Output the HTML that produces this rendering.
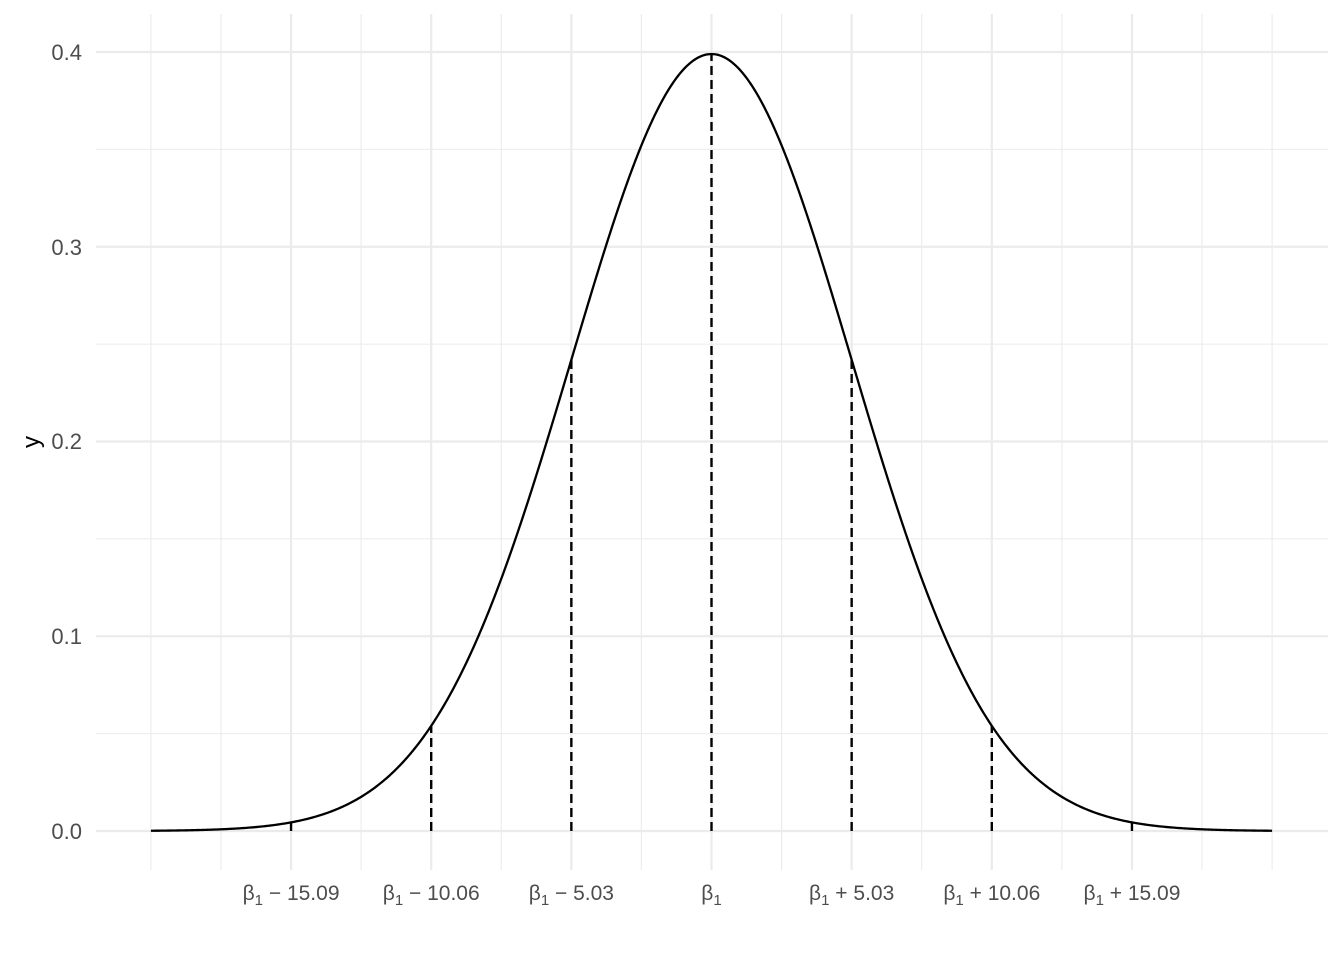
<!DOCTYPE html>
<html><head><meta charset="utf-8"><style>
html,body{margin:0;padding:0;background:#fff;}
svg text{font-family:"Liberation Sans",sans-serif;fill:#4d4d4d;}
</style></head><body>
<svg id="s" width="1344" height="960" xmlns="http://www.w3.org/2000/svg">
<g stroke="#ebebeb" stroke-width="1.1" id="minor"></g>
<g stroke="#ebebeb" stroke-width="2.2" id="major"></g>
<g id="dash" stroke="#000" stroke-width="2.4" stroke-dasharray="9,5"></g>
<path id="curve" fill="none" stroke="#000" stroke-width="2.3"/>
<g font-size="22" text-anchor="end">
<text x="82" y="839">0.0</text><text x="82" y="644">0.1</text><text x="82" y="449">0.2</text><text x="82" y="255">0.3</text><text x="82" y="60">0.4</text>
</g>
<text x="39" y="442" font-size="24" style="fill:#000" transform="rotate(-90 39 442)" text-anchor="middle">y</text>
<g font-size="21" text-anchor="middle" id="xl"></g>
</svg>
<script>
var X=function(z){return 711.5+z*140.15}, Y=function(v){return 831-v*1947.5};
var pdf=function(z){return Math.exp(-z*z/2)/Math.sqrt(2*Math.PI)};
var ns="http://www.w3.org/2000/svg";
function line(g,x1,y1,x2,y2){var l=document.createElementNS(ns,"line");l.setAttribute("x1",x1);l.setAttribute("y1",y1);l.setAttribute("x2",x2);l.setAttribute("y2",y2);document.getElementById(g).appendChild(l);}
[0.0,0.1,0.2,0.3,0.4].forEach(function(v){line("major",96,Y(v),1328,Y(v));});
[0.05,0.15,0.25,0.35].forEach(function(v){line("minor",96,Y(v),1328,Y(v));});
for(var i=-3;i<=3;i++)line("major",X(i),14,X(i),870);
[-4,-3.5,-2.5,-1.5,-0.5,0.5,1.5,2.5,3.5,4].forEach(function(z){line("minor",X(z),14,X(z),870);});
for(var i=-3;i<=3;i++)line("dash",X(i),Y(0),X(i),Y(pdf(i)));
var d="";for(var k=0;k<=800;k++){var z=-4+k*0.01;d+=(k?"L":"M")+X(z).toFixed(2)+","+Y(pdf(z)).toFixed(2);}
document.getElementById("curve").setAttribute("d",d);
function lab(s){return "β<tspan font-size='15' dy='5'>1</tspan>"+(s?"<tspan dy='-5'>"+s+"</tspan>":"");}
var labs=[lab(" − 15.09"),lab(" − 10.06"),lab(" − 5.03"),lab(""),lab(" + 5.03"),lab(" + 10.06"),lab(" + 15.09")];
var h="";for(var i=-3;i<=3;i++)h+="<text x='"+X(i)+"' y='900'>"+labs[i+3]+"</text>";
document.getElementById("xl").innerHTML=h;
</script>
</body></html>
